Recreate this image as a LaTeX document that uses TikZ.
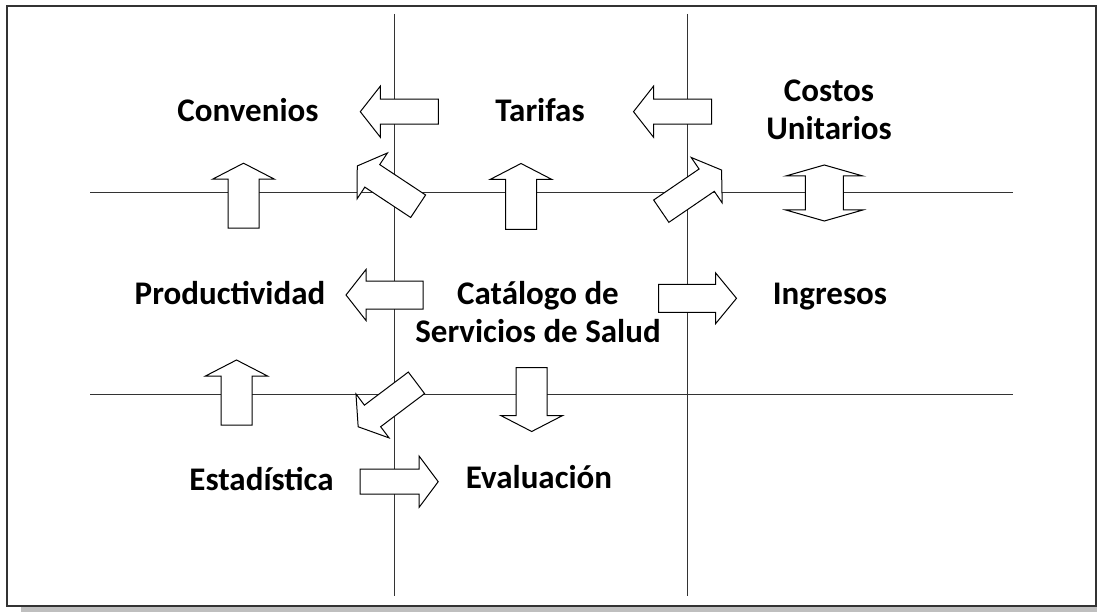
\documentclass[tikz,border=0pt]{standalone}
\usepackage{fontspec}
\setmainfont{Carlito}

\tikzset{
  guideline/.style = {draw=black!80, line width=1pt},
  arrowbox/.style  = {draw=black, fill=white, line width=1pt, line join=miter},
  itemtext/.style  = {font=\bfseries\fontsize{33}{38}\selectfont, inner sep=0pt,
                      anchor=base, align=center},
}

% block arrow: centre, angle, length, shaft width, head width, head length
\newcommand{\blockarrow}[6]{%
  \draw[arrowbox, shift={(#1)}, rotate=#2]
    ({-#3/2},{-#4/2}) -- ({#3/2-#6},{-#4/2}) -- ({#3/2-#6},{-#5/2})
    -- ({#3/2},0) -- ({#3/2-#6},{#5/2}) -- ({#3/2-#6},{#4/2})
    -- ({-#3/2},{#4/2}) -- cycle;}

% double block arrow: centre, angle, length, shaft width, head width, head length
\newcommand{\doublearrow}[6]{%
  \draw[arrowbox, shift={(#1)}, rotate=#2]
    ({-#3/2},0) -- ({-#3/2+#6},{-#5/2}) -- ({-#3/2+#6},{-#4/2})
    -- ({#3/2-#6},{-#4/2}) -- ({#3/2-#6},{-#5/2}) -- ({#3/2},0)
    -- ({#3/2-#6},{#5/2}) -- ({#3/2-#6},{#4/2}) -- ({-#3/2+#6},{#4/2})
    -- ({-#3/2+#6},{#5/2}) -- cycle;}

\begin{document}
\begin{tikzpicture}[x=1pt, y=-1pt]
  \useasboundingbox (0,0) rectangle (1097,612);
  \clip (0,0) rectangle (1097,612);

  % Shadow and frame
  \fill[black!25] (21,13) rectangle (1110,613);
  \draw[black!80, line width=2pt, fill=white] (7,6) rectangle (1096,606);

  % Grid lines
  \draw[guideline] (90,193) -- (1013,193);
  \draw[guideline] (90,394) -- (1013,394);
  \draw[guideline] (394,14) -- (394,596);
  \draw[guideline] (687,14) -- (687,596);

  % Top row arrows
  \blockarrow{399.3,111.7}{180}{78}{25}{51}{20}
  \blockarrow{672.5,111.7}{180}{78}{25}{51}{20}

  % Arrows on the upper line
  \blockarrow{243.5,195.7}{90}{65}{31}{62}{16}
  \blockarrow{387.7,186.1}{146.5}{73}{27}{55}{18}
  \blockarrow{521,196.5}{90}{66}{31}{62}{16}
  \blockarrow{691.4,190.6}{34.3}{73}{27}{55}{18}
  \doublearrow{824.3,193}{90}{56}{38}{77}{11}

  % Middle row arrows
  \blockarrow{384.5,295}{180}{77}{28}{51}{20}
  \blockarrow{697.5,298.3}{0}{78}{28}{51}{21}

  % Arrows on the lower line
  \blockarrow{236.5,392.5}{90}{65}{31}{62}{16}
  \blockarrow{387.3,404.8}{217}{73}{27}{55}{18}
  \blockarrow{531.7,399.5}{270}{64}{31}{62}{16}

  % Bottom row arrow
  \blockarrow{399.2,481.7}{0}{78}{25}{51}{19}

  % Labels
  \node[itemtext] (convenios)     at (248,122)  {Convenios};
  \node[itemtext] (tarifas)       at (540,122)  {Tarifas};
  \node[itemtext] (costos)        at (829,140)  {Costos\\Unitarios};
  \node[itemtext] (productividad) at (230,305)  {Productividad};
  \node[itemtext] (catalogo)      at (538,342)  {Catálogo de\\Servicios de Salud};
  \node[itemtext] (ingresos)      at (830,305)  {Ingresos};
  \node[itemtext] (estadistica)   at (261.5,490) {Estadística};
  \node[itemtext] (evaluacion)    at (539,488)  {Evaluación};
\end{tikzpicture}
\end{document}
